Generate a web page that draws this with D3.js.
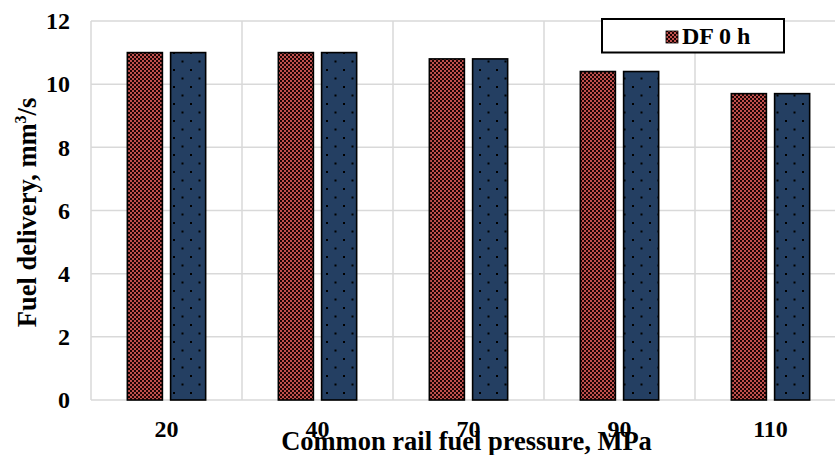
<!DOCTYPE html>
<html>
<head>
<meta charset="utf-8">
<script src="https://cdn.jsdelivr.net/npm/d3@7"></script>
<style>
  html, body { margin: 0; padding: 0; background: #fff; }
  svg { display: block; font-family: "Liberation Serif", "Times New Roman", serif; font-weight: bold; }
</style>
</head>
<body>
<svg id="chart" width="835" height="455"></svg>
<script>
const categories = ["20", "40", "70", "90", "110"];
const seriesNames = ["DF 0 h", "DF 2"];
const seriesA = [11.0, 11.0, 10.8, 10.4, 9.7];
const seriesB = [11.0, 11.0, 10.8, 10.4, 9.7];
const legendNames = ["DF 0 h"];
const yTicks = [0, 2, 4, 6, 8, 10, 12];
const xTitle = "Common rail fuel pressure, MPa";

const svg = d3.select("#chart");
const m = { left: 91, right: 846, top: 21, bottom: 400 };

const defs = svg.append("defs");
const pr = defs.append("pattern").attr("id", "pRed").attr("patternUnits", "userSpaceOnUse")
  .attr("width", 4).attr("height", 4);
pr.append("rect").attr("width", 4).attr("height", 4).attr("fill", "#c0504d");
pr.append("rect").attr("x", 0).attr("y", 0).attr("width", 2).attr("height", 2).attr("fill", "#1c0303");
pr.append("rect").attr("x", 2).attr("y", 2).attr("width", 2).attr("height", 2).attr("fill", "#1c0303");
const pb = defs.append("pattern").attr("id", "pBlue").attr("patternUnits", "userSpaceOnUse")
  .attr("width", 17).attr("height", 17);
pb.append("rect").attr("width", 17).attr("height", 17).attr("fill", "#243f62");
pb.append("rect").attr("x", 3).attr("y", 1).attr("width", 2).attr("height", 2).attr("fill", "#000");
pb.append("rect").attr("x", 11.5).attr("y", 9.5).attr("width", 2).attr("height", 2).attr("fill", "#000");

const fills = ["url(#pRed)", "url(#pBlue)"];

const x0 = d3.scaleBand().domain(categories).range([m.left, m.right]).paddingInner(0).paddingOuter(0);
const x1 = d3.scaleBand().domain(seriesNames).range([0, x0.bandwidth()]).paddingInner(0.19).paddingOuter(0.84);
const y = d3.scaleLinear().domain([0, 12]).range([m.bottom, m.top]);

const grid = "#d9d9d9";
svg.append("g").selectAll("line").data(yTicks).join("line")
  .attr("x1", m.left).attr("x2", m.right)
  .attr("y1", d => y(d)).attr("y2", d => y(d))
  .attr("stroke", grid).attr("stroke-width", 1.5);
const bounds = categories.map(c => x0(c)).concat([x0(categories[categories.length - 1]) + x0.bandwidth()]);
svg.append("g").selectAll("line").data(bounds).join("line")
  .attr("x1", d => d).attr("x2", d => d)
  .attr("y1", m.top).attr("y2", m.bottom)
  .attr("stroke", grid).attr("stroke-width", 1.5);

const data = [seriesA, seriesB];
const g = svg.append("g");
seriesNames.forEach((s, si) => {
  g.append("g").selectAll("rect").data(categories).join("rect")
    .attr("x", c => x0(c) + x1(s))
    .attr("width", x1.bandwidth())
    .attr("y", (c, i) => y(data[si][i]))
    .attr("height", (c, i) => y(0) - y(data[si][i]))
    .attr("fill", fills[si])
    .attr("stroke", "#000").attr("stroke-width", 1.6);
});

const yAxis = d3.axisLeft(y).tickValues(yTicks).tickSize(0).tickPadding(0).tickFormat(d3.format("d"));
const ya = svg.append("g").attr("transform", `translate(70,0)`).call(yAxis);
ya.select(".domain").remove();
ya.selectAll("text").attr("font-size", 24).attr("font-weight", "bold")
  .attr("font-family", "Liberation Serif, serif").attr("fill", "#000");

const xAxis = d3.axisBottom(x0).tickSize(0).tickPadding(0);
const xa = svg.append("g").attr("transform", `translate(0,${m.bottom})`).call(xAxis);
xa.select(".domain").remove();
xa.selectAll("text").attr("dy", null).attr("y", 37).attr("font-size", 24).attr("font-weight", "bold")
  .attr("font-family", "Liberation Serif, serif").attr("fill", "#000");

svg.append("text").attr("x", (m.left + m.right) / 2 - 2).attr("y", 450)
  .attr("text-anchor", "middle").attr("font-size", 26.5).text(xTitle);

const yt = svg.append("text").attr("transform", `translate(36,${(m.top + m.bottom) / 2 + 2}) rotate(-90)`)
  .attr("text-anchor", "middle").attr("font-size", 26.5);
yt.append("tspan").text("Fuel delivery, mm");
yt.append("tspan").attr("font-size", 16).attr("dy", -10).text("3");
yt.append("tspan").attr("dy", 10).text("/s");

const lg = svg.append("g");
lg.append("rect").attr("x", 602).attr("y", 19).attr("width", 182).attr("height", 33.5)
  .attr("fill", "#fff").attr("stroke", "#000").attr("stroke-width", 2);
legendNames.forEach((n, i) => {
  lg.append("rect").attr("x", 666).attr("y", 31).attr("width", 12).attr("height", 12)
    .attr("fill", fills[i]).attr("stroke", "#000").attr("stroke-width", 0.8);
  lg.append("text").attr("x", 682).attr("y", 44).attr("font-size", 24).text(n);
});
</script>
</body>
</html>
